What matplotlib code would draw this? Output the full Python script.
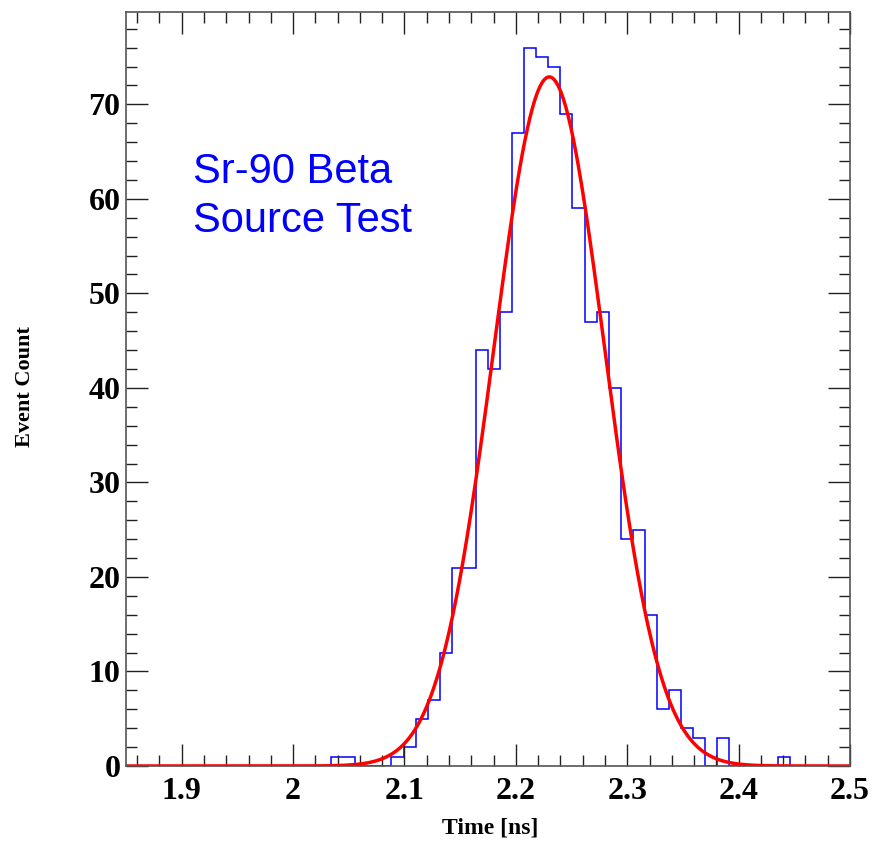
import numpy as np
import matplotlib
matplotlib.use("Agg")
import matplotlib.pyplot as plt
from matplotlib.ticker import MultipleLocator

# histogram: 60 bins between 1.85 and 2.5 ns
bin_lo = 1.85
bin_hi = 2.5
n_bins = 60
counts = [0, 0, 0, 0, 0, 0, 0, 0, 0, 0,
          0, 0, 0, 0, 0, 0, 0, 1, 1, 0,
          0, 0, 1, 2, 5, 7, 12, 21, 21, 44,
          42, 48, 67, 76, 75, 74, 69, 59, 47, 48,
          40, 24, 25, 16, 6, 8, 4, 3, 0, 3,
          0, 0, 0, 0, 1, 0, 0, 0, 0, 0]

# gaussian fit parameters
fit_amp = 72.9
fit_mean = 2.2300
fit_sigma = 0.0497

x_ticks = [1.9, 2.0, 2.1, 2.2, 2.3, 2.4, 2.5]
x_tick_labels = ["1.9", "2", "2.1", "2.2", "2.3", "2.4", "2.5"]
y_ticks = [0, 10, 20, 30, 40, 50, 60, 70]

edges = np.linspace(bin_lo, bin_hi, n_bins + 1)
xf = np.linspace(bin_lo, bin_hi, 600)
yf = fit_amp * np.exp(-0.5 * ((xf - fit_mean) / fit_sigma) ** 2)

fig = plt.figure(figsize=(8.76, 8.42), dpi=100)
ax = fig.add_axes([126 / 876, 1 - 766 / 842, 724 / 876, 754.3 / 842])

ax.stairs(counts, edges, color="#0000ff", linewidth=1.1)
ax.plot(xf, yf, color="#ff0000", linewidth=2.5)

ax.set_xlim(bin_lo, bin_hi)
ax.set_ylim(0, 79.8)

serif = ["Liberation Serif", "DejaVu Serif"]
ax.set_xticks(x_ticks)
ax.set_xticklabels(x_tick_labels, fontfamily=serif, fontweight="bold", fontsize=23)
ax.set_yticks(y_ticks)
ax.set_yticklabels([str(v) for v in y_ticks], fontfamily=serif, fontweight="bold", fontsize=23)
ax.xaxis.set_minor_locator(MultipleLocator(0.02))
ax.yaxis.set_minor_locator(MultipleLocator(2))

ax.tick_params(which="both", direction="in", top=True, right=True, color="#222222", width=1.0)
ax.tick_params(which="major", axis="x", length=16, pad=8)
ax.tick_params(which="minor", axis="x", length=8)
ax.tick_params(which="major", axis="y", length=16, pad=4)
ax.tick_params(which="minor", axis="y", length=8)
for s in ax.spines.values():
    s.set_color("#555555")
    s.set_linewidth(1.2)

fig.text(490 / 876, 1 - 828 / 842, "Time [ns]", ha="center", va="center",
         fontfamily=serif, fontweight="bold", fontsize=17)
fig.text(25 / 876, 1 - 387 / 842, "Event Count", ha="center", va="center", rotation=90,
         fontfamily=serif, fontweight="bold", fontsize=16)

sans = ["Liberation Sans", "DejaVu Sans"]
ax.text(0.092, 0.7725, "Sr-90 Beta", transform=ax.transAxes, color="#0000ff",
        fontfamily=sans, fontsize=30, va="baseline", ha="left")
ax.text(0.092, 0.7083, "Source Test", transform=ax.transAxes, color="#0000ff",
        fontfamily=sans, fontsize=30, va="baseline", ha="left")

fig.savefig("out.png", dpi=100)
